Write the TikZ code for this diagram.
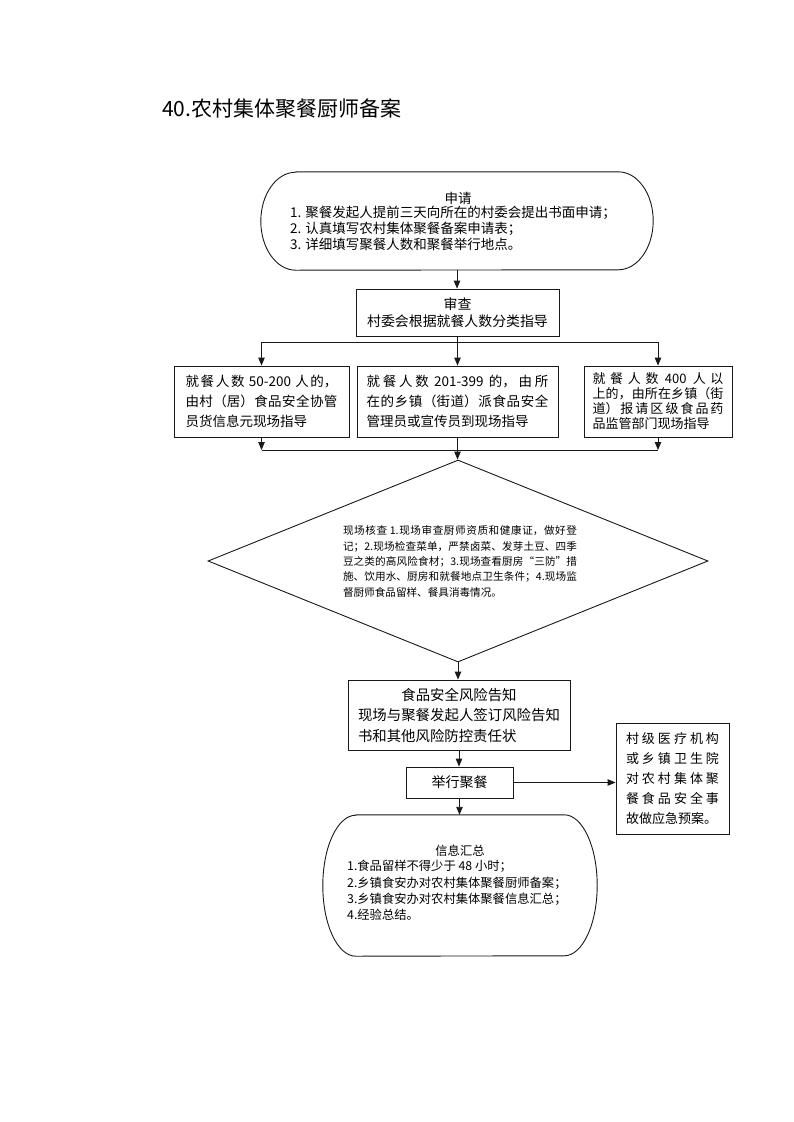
\documentclass[tikz,border=0pt]{standalone}
\usepackage{fontspec}
\setmainfont{Noto Sans CJK SC}
\usetikzlibrary{arrows.meta,calc,shapes.geometric}
\XeTeXlinebreaklocale "zh"
\XeTeXlinebreakskip=0pt plus 2pt minus 0.5pt
\tolerance=9999
\hbadness=10000
\hfuzz=5pt
\newcommand\myfs[2]{\fontsize{#1pt}{#2pt}\selectfont}
\newcommand\drawstadium[3]{%
  \draw[ln] let \p1=(#1.north east), \p2=(#1.south west) in
    (\x2+#2,\y1) -- (\x1-#2,\y1)
    arc[start angle=90,end angle=-90,x radius=#2,y radius=#3]
    -- (\x2+#2,\y2)
    arc[start angle=270,end angle=90,x radius=#2,y radius=#3] -- cycle;}
\begin{document}
\begin{tikzpicture}[x=1pt,y=-1pt,
  ln/.style={line width=0.9pt, draw=black!90},
  arr/.style={ln, -{Triangle[length=8pt,width=6.5pt]}},
  box/.style={ln, draw, rectangle, inner sep=0pt, align=justify},
  txt/.style={inner sep=0pt},
]
\fill[white] (0,0) rectangle (794,1122);
\useasboundingbox (0,0) rectangle (794,1122);

\node[txt, anchor=west, font=\myfs{21}{25}] (title) at (162,109) {40.农村集体聚餐厨师备案};

% apply stadium
\node[txt, minimum width=392pt, minimum height=98pt] (apply) at (457,221) {};
\drawstadium{apply}{35pt}{49pt}
\node[txt, font=\myfs{13.5}{16}] (applyh) at (458,198) {申请};
\node[txt, anchor=west, align=left, font=\myfs{13.5}{16}] (applyb) at (290,228) {1. 聚餐发起人提前三天向所在的村委会提出书面申请；\\2. 认真填写农村集体聚餐备案申请表；\\3. 详细填写聚餐人数和聚餐举行地点。};

% review
\node[box, minimum width=203pt, minimum height=47pt, align=center, font=\myfs{13.9}{17}] (review) at (457.5,312.5) {审查\\村委会根据就餐人数分类指导};

% three boxes
\node[box, minimum width=175pt, minimum height=71pt, text width=152pt, font=\myfs{13.5}{20}] (left) at (261.5,401.5) {就餐人数 50-200 人的，\linebreak 由村（居）食品安全协管\linebreak 员货信息元现场指导};
\node[box, minimum width=201pt, minimum height=71pt, text width=182pt, font=\myfs{13.5}{20}] (mid) at (457.5,401.5) {就餐人数 201-399 的，由所\linebreak 在的乡镇（街道）派食品安全\linebreak 管理员或宣传员到现场指导};
\node[box, minimum width=148pt, minimum height=71pt, text width=131pt, font=\myfs{13}{15}] (right) at (658,401.5) {就餐人数 400 人以\linebreak 上的，由所在乡镇（街\linebreak 道）报请区级食品药\linebreak 品监管部门现场指导};

% diamond
\node[ln, draw, diamond, minimum width=500pt, minimum height=202pt, inner sep=0pt] (chk) at (458,561) {};
\node[txt, text width=234pt, align=justify, font=\myfs{10.6}{15.3}] (chkt) at (460,561.5) {现场核查 1.现场审查厨师资质和健康证，做好登\linebreak 记；2.现场检查菜单，严禁卤菜、发芽土豆、四季\linebreak 豆之类的高风险食材；3.现场查看厨房“三防”措\linebreak 施、饮用水、厨房和就餐地点卫生条件；4.现场监\linebreak 督厨师食品留样、餐具消毒情况。};

% risk
\node[box, minimum width=222pt, minimum height=70pt, text width=202pt, font=\myfs{14.4}{20.5}] (risk) at (459,715) {\hspace*{\fill}食品安全风险告知\hspace*{\fill}\linebreak 现场与聚餐发起人签订风险告知\linebreak 书和其他风险防控责任状};

% hold
\node[box, minimum width=107pt, minimum height=31pt, align=center, font=\myfs{14}{16}] (hold) at (459.5,782.5) {举行聚餐};

% side
\node[box, minimum width=113pt, minimum height=111pt, text width=93pt, font=\myfs{13}{20.2}] (side) at (672.5,778.5) {村级医疗机构\linebreak 或乡镇卫生院\linebreak 对农村集体聚\linebreak 餐食品安全事\linebreak 故做应急预案。};

% info stadium
\node[txt, minimum width=274pt, minimum height=141pt] (info) at (460,885.5) {};
\drawstadium{info}{33pt}{70.5pt}
\node[txt, font=\myfs{12.3}{16.3}] (infoh) at (460,851) {信息汇总};
\node[txt, anchor=west, align=left, font=\myfs{12.3}{16.3}] (infob) at (347,890.5) {1.食品留样不得少于 48 小时；\\2.乡镇食安办对农村集体聚餐厨师备案；\\3.乡镇食安办对农村集体聚餐信息汇总；\\4.经验总结。};

% connectors
\coordinate (sp) at (457.5,342);
\coordinate (mg) at (457.5,450);
\draw[arr] (apply.south) -- (apply.south |- review.north);
\draw[arr] (review.south) -- (mid.north);
\draw[arr] (sp) -| (left.north);
\draw[arr] (sp) -| (right.north);
\draw[arr] (left.south) -- (left.south |- mg);
\draw[arr] (right.south) -- (right.south |- mg);
\draw[ln] (left.south |- mg) -- (right.south |- mg);
\draw[arr] (mid.south) -- (mid.south |- chk.north);
\draw[arr] (chk.south) -- (chk.south |- risk.north);
\draw[arr] (risk.south) -- (risk.south |- hold.north);
\draw[arr] (hold.south) -- (hold.south |- info.north);
\draw[arr] (hold.east) -- (hold.east -| side.west);
\end{tikzpicture}
\end{document}
